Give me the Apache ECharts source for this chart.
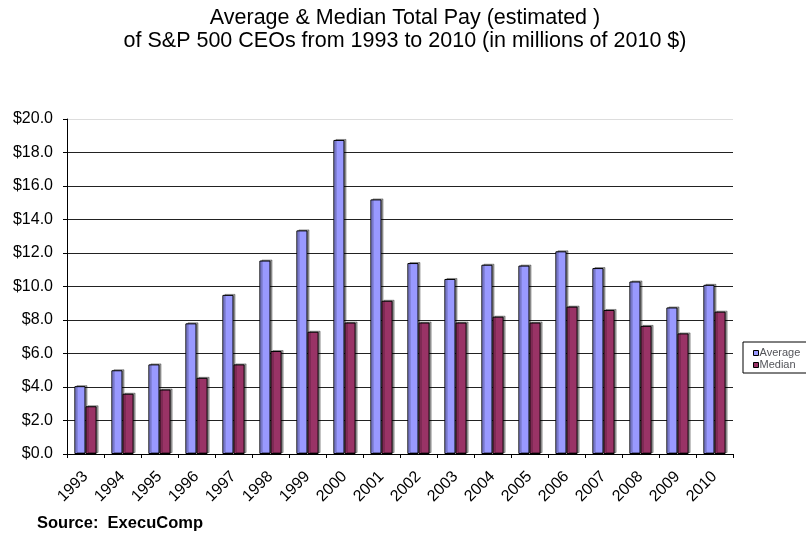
<!DOCTYPE html>
<html>
<head>
<meta charset="utf-8">
<script src="https://cdn.jsdelivr.net/npm/echarts@6/dist/echarts.min.js"></script>
<style>
  html, body { margin: 0; padding: 0; background: #fff; }
  #chart { width: 806px; height: 539px; }
</style>
</head>
<body>
<div id="chart"></div>
<script>
// data (millions of 2010 $)
const years = ['1993', '1994', '1995', '1996', '1997', '1998', '1999', '2000', '2001',
  '2002', '2003', '2004', '2005', '2006', '2007', '2008', '2009', '2010'];
const averagePay = [4.05, 5.0, 5.35, 7.8, 9.5, 11.55, 13.35, 18.75, 15.2,
  11.4, 10.45, 11.3, 11.25, 12.1, 11.1, 10.3, 8.75, 10.1];
const medianPay = [2.85, 3.6, 3.85, 4.55, 5.35, 6.15, 7.3, 7.85, 9.15,
  7.85, 7.85, 8.2, 7.85, 8.8, 8.6, 7.65, 7.2, 8.5];
const gridColors = ['#000', '#222', '#222', '#222', '#222', '#222', '#222', '#222', '#222', '#222', '#ddd'];

const FONT = 'Liberation Sans, Arial, sans-serif';
const chart = echarts.init(document.getElementById('chart'));

const barStyle = (color) => ({
  color: color,
  borderColor: '#000',
  borderWidth: 1,
  shadowColor: 'rgba(0,0,0,0.35)',
  shadowOffsetX: 2,
  shadowOffsetY: -1
});

chart.setOption({
  animation: false,
  textStyle: { fontFamily: FONT, color: '#000' },
  title: {
    text: 'Average & Median Total Pay (estimated )\nof S&P 500 CEOs from 1993 to 2010 (in millions of 2010 $)',
    left: 405,
    textAlign: 'center',
    top: 7,
    padding: 0,
    textStyle: { fontSize: 21.5, fontWeight: 'normal', lineHeight: 23, color: '#000' }
  },
  graphic: [{
    type: 'text',
    left: 37,
    top: 515,
    style: { text: 'Source:  ExecuComp', font: 'bold 16.5px ' + FONT, fill: '#000' }
  }],
  legend: {
    orient: 'vertical',
    left: 743,
    top: 342,
    padding: [5, 20, 2, 10],
    itemGap: 0,
    itemWidth: 5,
    itemHeight: 5,
    borderColor: '#000',
    borderWidth: 1,
    icon: 'rect',
    textStyle: { fontSize: 11, lineHeight: 12, padding: [0, 0, 0, -4] },
    itemStyle: { borderColor: '#000', borderWidth: 1, shadowOffsetX: 0, shadowOffsetY: 0, shadowColor: 'transparent' },
    data: ['Average', 'Median']
  },
  grid: { left: 67, right: 73, top: 119, bottom: 85 },
  xAxis: {
    type: 'category',
    data: years,
    axisLine: { lineStyle: { color: '#000', width: 1 } },
    axisTick: { show: true, length: 4, lineStyle: { color: '#000' } },
    axisLabel: { rotate: 45, fontSize: 16, color: '#000', margin: 20 }
  },
  yAxis: {
    type: 'value',
    min: 0,
    max: 20,
    interval: 2,
    axisLine: { show: true, lineStyle: { color: '#000', width: 1 } },
    axisTick: { show: true, length: 4, lineStyle: { color: '#000' } },
    axisLabel: { fontSize: 16, color: '#000', margin: 14, formatter: (v) => '$' + v.toFixed(1) },
    splitLine: { show: true, lineStyle: { color: gridColors, width: 1 } }
  },
  series: [
    {
      name: 'Average',
      type: 'bar',
      data: averagePay,
      barGap: '0%',
      barCategoryGap: '40%',
      itemStyle: barStyle('#9999ff')
    },
    {
      name: 'Median',
      type: 'bar',
      data: medianPay,
      itemStyle: barStyle('#993366')
    }
  ]
});
</script>
</body>
</html>
